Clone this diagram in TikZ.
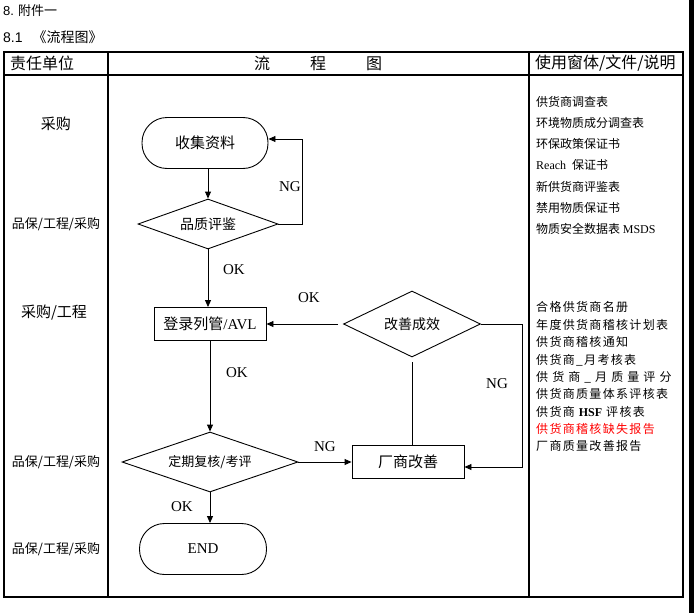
\documentclass[tikz,border=0pt]{standalone}
\usepackage{fontspec}
\setmainfont{Liberation Serif}
\newfontfamily\cjk{Noto Sans CJK SC}
\newfontfamily\cjkw[LetterSpace=11]{Noto Sans CJK SC}
\newfontfamily\cjkww[LetterSpace=34]{Noto Sans CJK SC}
\newfontfamily\lsans{Liberation Sans}
\usetikzlibrary{arrows.meta,shapes.geometric,calc}
\begin{document}
\begin{tikzpicture}[x=1pt,y=-1pt,
  tbl/.style={line width=1.4pt},
  stadium/.style={draw,line width=0.9pt,rectangle,rounded corners=25pt,minimum width=126pt,minimum height=51pt,inner sep=0pt,font=\fontsize{15}{15}\selectfont},
  dia/.style={draw,line width=0.9pt,diamond,aspect=3,inner sep=0pt,font=\fontsize{14}{14}\selectfont},
  box/.style={draw,line width=0.9pt,rectangle,minimum width=112pt,minimum height=33pt,inner sep=0pt,font=\fontsize{15}{15}\selectfont},
  arr/.style={line width=0.9pt,-{Triangle[length=7pt,width=6pt]}},
  ln/.style={line width=0.9pt},
  lab/.style={font=\fontsize{15}{15}\selectfont,inner sep=0pt},
  unit/.style={font=\cjk\fontsize{13}{13}\selectfont,inner sep=0pt},
  doc/.style={anchor=west,font=\cjk\fontsize{12}{12}\selectfont,inner sep=0pt},
  docw/.style={anchor=west,font=\cjkw\fontsize{12}{12}\selectfont,inner sep=0pt},
  hdr/.style={font=\cjk\fontsize{16}{16}\selectfont,inner sep=0pt}
]
\useasboundingbox (0,0) rectangle (697,613);
\fill[white] (0,0) rectangle (697,613);
\fill[black] (689,0) rectangle (694,613);

% titles
\node[anchor=west,inner sep=0pt,font=\fontsize{13}{13}\selectfont] (t1) at (3,11) {{\lsans 8.}\hspace{4pt}{\cjk 附件一}};
\node[anchor=west,inner sep=0pt,font=\fontsize{14}{14}\selectfont] (t2) at (3,37) {{\lsans 8.1}\hspace{10pt}{\cjk 《流程图》}};

% table
\draw[tbl] (4,52) rectangle (683,597);
\draw[tbl] (4,75) -- (683,75);
\draw[tbl] (108,52) -- (108,597);
\draw[tbl] (529,52) -- (529,597);

\node[hdr,anchor=west] (h1) at (10,63) {责任单位};
\node[hdr] (h2) at (318,63) {流\hspace{40pt}程\hspace{40pt}图};
\node[hdr,anchor=west] (h3) at (535,63) {使用窗体/文件/说明};

% units
\node[unit,font=\cjk\fontsize{15}{15}\selectfont] (u1) at (56,124) {采购};
\node[unit] (u2) at (56,224) {品保/工程/采购};
\node[unit,font=\cjk\fontsize{15}{15}\selectfont] (u3) at (54,313) {采购/工程};
\node[unit] (u4) at (56,462) {品保/工程/采购};
\node[unit] (u5) at (56,549) {品保/工程/采购};

% documents
\node[doc] (d1) at (536,102) {供货商调查表};
\node[doc] (d2) at (536,123) {环境物质成分调查表};
\node[doc] (d3) at (536,144) {环保政策保证书};
\node[doc] (d4) at (536,165) {{\rmfamily Reach}\hspace{6pt}保证书};
\node[doc] (d5) at (536,187) {新供货商评鉴表};
\node[doc] (d6) at (536,208) {禁用物质保证书};
\node[doc] (d7) at (536,229) {物质安全数据表 {\rmfamily MSDS}};

\node[docw] (e1) at (536,307) {合格供货商名册};
\node[docw] (e2) at (536,325) {年度供货商稽核计划表};
\node[docw] (e3) at (536,342) {供货商稽核通知};
\node[docw] (e4) at (536,360) {供货商\_月考核表};
\node[doc,font=\cjkww\fontsize{12}{12}\selectfont] (e5) at (536,377) {供货商\_月质量评分};
\node[docw] (e6) at (536,394) {供货商质量体系评核表};
\node[docw] (e7) at (536,412) {供货商 {\rmfamily\bfseries HSF} 评核表};
\node[docw,text=red] (e8) at (536,429) {供货商稽核缺失报告};
\node[docw] (e9) at (536,446) {厂商质量改善报告};

% flow nodes
\node[stadium] (collect) at (205,143) {\cjk 收集资料};
\node[dia,minimum width=140pt,minimum height=50pt] (eval) at (208,224) {\cjk 品质评鉴};
\node[box] (avl) at (210,324) {{\cjk 登录列管}/AVL};
\node[dia,minimum width=137pt,minimum height=66pt,aspect=2] (improve) at (412,324) {\cjk 改善成效};
\node[box] (vendor) at (408,462) {\cjk 厂商改善};
\node[dia,minimum width=176pt,minimum height=60pt,font=\fontsize{13}{13}\selectfont] (review) at (210,462) {\cjk 定期复核/考评};
\node[stadium,minimum width=127pt] (end) at (203,549) {END};

% connectors
\draw[arr] (collect.south -| eval.north) -- (eval.north);
\draw[arr] (eval.east) -- ++(24,0) |- ($(collect.east)+(0,-4)$);
\draw[arr] (eval.south) -- (eval.south |- avl.north);
\draw[arr] ($(improve.west)+(-5,0)$) -- (avl.east);
\draw[ln] (vendor.north -| improve.south) -- ($(improve.south)+(0,5)$);
\draw[arr] (improve.east) -- ++(41,0) |- ($(vendor.east)+(0,5)$);
\draw[arr] (avl.south) -- (review.north);
\draw[arr] (review.east) -- (vendor.west);
\draw[arr] (review.south) -- (review.south |- end.north);

% labels
\node[lab] (l1) at (290,187) {NG};
\node[lab] (l2) at (234,270) {OK};
\node[lab] (l3) at (309,298) {OK};
\node[lab] (l4) at (237,373) {OK};
\node[lab] (l5) at (497,384) {NG};
\node[lab] (l6) at (325,447) {NG};
\node[lab] (l7) at (182,507) {OK};
\end{tikzpicture}
\end{document}
